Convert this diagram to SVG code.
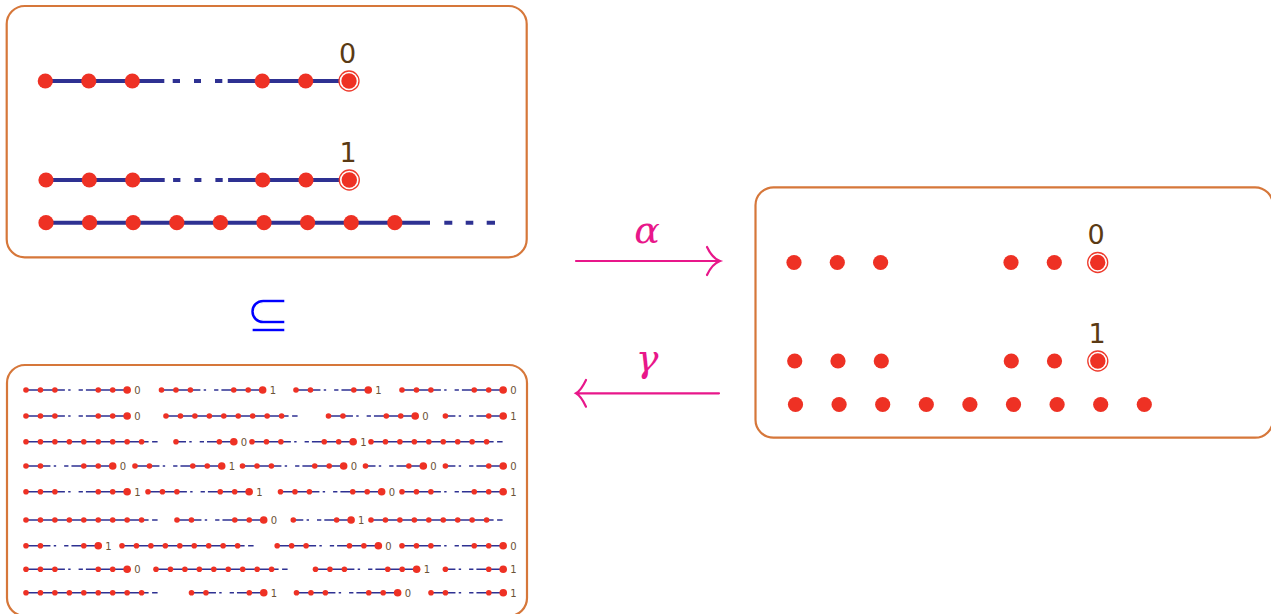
<svg xmlns="http://www.w3.org/2000/svg" width="1271" height="614" viewBox="0 0 1271 614">
<style>
.box{fill:#fff;stroke:#d6773a;stroke-width:2.2}
.ln{fill:none;stroke:#2e3192;stroke-width:4}
.sl{fill:none;stroke:#2e3192;stroke-width:1.5}
.red{fill:#ee3124}
.ring{fill:#fff;stroke:#ee3a2c;stroke-width:1.3}
.lab{font-family:"DejaVu Sans",sans-serif;font-size:27px;fill:#5a3a14;text-anchor:middle}
.sm{font-family:"DejaVu Sans",sans-serif;font-size:10px;fill:#6b5236}
.arr{fill:none;stroke:#e8178a;stroke-width:2.2;stroke-linecap:round}
.gr{font-family:"DejaVu Serif",serif;font-style:italic;font-size:38px;fill:#e8178a;text-anchor:middle}
.sub{font-family:"DejaVu Sans",sans-serif;font-size:54px;fill:#0000ff;stroke:#fff;stroke-width:1.4;text-anchor:middle}
</style>
<defs>
<circle id="d" r="7.6" class="red"/>
<g id="e"><circle r="10" class="ring"/><circle r="7.7" class="red"/></g>
<circle id="sd" r="2.8" class="red"/>
<circle id="bd" r="3.8" class="red"/>
<g id="g33"><path class="sl" d="M0 0H28.9h10m3.3 0h2.4m8 0h4.3m3 0H101.15"/><use href="#sd" x="0"/><use href="#sd" x="14.45"/><use href="#sd" x="28.9"/><use href="#sd" x="72.25"/><use href="#sd" x="86.7"/><use href="#bd" x="101.15"/></g>
<g id="g23"><path class="sl" d="M0 0H14.45h10m3.3 0h2.4m8 0h4.3m3 0H86.7"/><use href="#sd" x="0"/><use href="#sd" x="14.45"/><use href="#sd" x="57.8"/><use href="#sd" x="72.25"/><use href="#bd" x="86.7"/></g>
<g id="g22"><path class="sl" d="M0 0H14.45h10m3.3 0h2.4m8 0h4.3m3 0H72.25"/><use href="#sd" x="0"/><use href="#sd" x="14.45"/><use href="#sd" x="57.8"/><use href="#bd" x="72.25"/></g>
<g id="g12"><path class="sl" d="M0 0h10m3.3 0h2.4m8 0h4.3m3 0H57.8"/><use href="#sd" x="0"/><use href="#sd" x="43.35"/><use href="#bd" x="57.8"/></g>
<g id="p9"><path class="sl" d="M0 0H115.6h7m3.5 0h5.5"/><use href="#sd" x="0"/><use href="#sd" x="14.45"/><use href="#sd" x="28.9"/><use href="#sd" x="43.35"/><use href="#sd" x="57.8"/><use href="#sd" x="72.25"/><use href="#sd" x="86.7"/><use href="#sd" x="101.15"/><use href="#sd" x="115.6"/></g>
</defs>

<g id="node-chains">
<rect class="box" x="6.7" y="6" width="520" height="251.3" rx="18"/>
<path class="ln" d="M45.3 81H132.3h32m8.4 0h7.3m14 0h7m14 0h7.3m5.4 0H349"/>
<use href="#d" x="45.3" y="81"/><use href="#d" x="88.8" y="81"/><use href="#d" x="132.3" y="81"/><use href="#d" x="262.3" y="81"/><use href="#d" x="305.7" y="81"/><use href="#e" x="349" y="81"/>
<text class="lab" x="347.5" y="63">0</text>
<path class="ln" d="M46 180H132.7h32m8.4 0h7.3m14 0h7m14 0h7.3m5.4 0H349.3"/>
<use href="#d" x="46" y="180"/><use href="#d" x="89.3" y="180"/><use href="#d" x="132.7" y="180"/><use href="#d" x="262.7" y="180"/><use href="#d" x="306" y="180"/><use href="#e" x="349.3" y="180"/>
<text class="lab" x="348" y="162.3">1</text>
<path class="ln" d="M46 222.7H430m14.3 0h8m13.4 0h7.6m13.4 0h8.3"/>
<use href="#d" x="46" y="222.7"/><use href="#d" x="89.6" y="222.7"/><use href="#d" x="133.2" y="222.7"/><use href="#d" x="176.8" y="222.7"/><use href="#d" x="220.4" y="222.7"/><use href="#d" x="264" y="222.7"/><use href="#d" x="307.6" y="222.7"/><use href="#d" x="351.2" y="222.7"/><use href="#d" x="394.8" y="222.7"/>
</g>

<g id="node-points">
<rect class="box" x="755.5" y="187.3" width="517.5" height="250.4" rx="18"/>
<use href="#d" x="794" y="262.5"/><use href="#d" x="837.3" y="262.5"/><use href="#d" x="880.6" y="262.5"/><use href="#d" x="1011" y="262.5"/><use href="#d" x="1054.3" y="262.5"/><use href="#e" x="1097.7" y="262.5"/>
<text class="lab" x="1096" y="244">0</text>
<use href="#d" x="794.7" y="361"/><use href="#d" x="838" y="361"/><use href="#d" x="881.3" y="361"/><use href="#d" x="1011.3" y="361"/><use href="#d" x="1054.5" y="361"/><use href="#e" x="1097.8" y="361"/>
<text class="lab" x="1097" y="343.3">1</text>
<use href="#d" x="795.5" y="404.5"/><use href="#d" x="839.1" y="404.5"/><use href="#d" x="882.7" y="404.5"/><use href="#d" x="926.3" y="404.5"/><use href="#d" x="969.9" y="404.5"/><use href="#d" x="1013.5" y="404.5"/><use href="#d" x="1057.1" y="404.5"/><use href="#d" x="1100.7" y="404.5"/><use href="#d" x="1144.3" y="404.5"/>
</g>

<g id="node-subset">
<text class="sub" x="268" y="332">⊆</text>
</g>

<g id="node-many">
<rect class="box" x="7" y="365" width="520" height="251" rx="18"/>
<g transform="translate(0,390)">
<use href="#g33" x="26"/><text class="sm" x="134.15" y="4">0</text>
<use href="#g33" x="161.5"/><text class="sm" x="269.65" y="4">1</text>
<use href="#g22" x="296"/><text class="sm" x="375.25" y="4">1</text>
<use href="#g33" x="402"/><text class="sm" x="510.15" y="4">0</text>
</g>
<g transform="translate(0,416)">
<use href="#g33" x="26"/><text class="sm" x="134.15" y="4">0</text>
<use href="#p9" x="166"/>
<use href="#g23" x="328.5"/><text class="sm" x="422.2" y="4">0</text>
<use href="#g12" x="445.4"/><text class="sm" x="510.2" y="4">1</text>
</g>
<g transform="translate(0,441.7)">
<use href="#p9" x="26"/>
<use href="#g12" x="176"/><text class="sm" x="240.8" y="4">0</text>
<use href="#g33" x="252"/><text class="sm" x="360.15" y="4">1</text>
<use href="#p9" x="371"/>
</g>
<g transform="translate(0,466)">
<use href="#g23" x="26"/><text class="sm" x="119.7" y="4">0</text>
<use href="#g23" x="135"/><text class="sm" x="228.7" y="4">1</text>
<use href="#g33" x="242.5"/><text class="sm" x="350.65" y="4">0</text>
<use href="#g12" x="365.5"/><text class="sm" x="430.3" y="4">0</text>
<use href="#g12" x="445.4"/><text class="sm" x="510.2" y="4">0</text>
</g>
<g transform="translate(0,491.7)">
<use href="#g33" x="26"/><text class="sm" x="134.15" y="4">1</text>
<use href="#g33" x="148"/><text class="sm" x="256.15" y="4">1</text>
<use href="#g33" x="280.5"/><text class="sm" x="388.65" y="4">0</text>
<use href="#g33" x="402"/><text class="sm" x="510.15" y="4">1</text>
</g>
<g transform="translate(0,520)">
<use href="#p9" x="26"/>
<use href="#g23" x="177"/><text class="sm" x="270.7" y="4">0</text>
<use href="#g12" x="293.3"/><text class="sm" x="358.1" y="4">1</text>
<use href="#p9" x="371"/>
</g>
<g transform="translate(0,545.7)">
<use href="#g22" x="26"/><text class="sm" x="105.25" y="4">1</text>
<use href="#p9" x="122"/>
<use href="#g33" x="277.2"/><text class="sm" x="385.35" y="4">0</text>
<use href="#g33" x="402"/><text class="sm" x="510.15" y="4">0</text>
</g>
<g transform="translate(0,569.3)">
<use href="#g33" x="26"/><text class="sm" x="134.15" y="4">0</text>
<use href="#p9" x="156"/>
<use href="#g33" x="315.5"/><text class="sm" x="423.65" y="4">1</text>
<use href="#g12" x="445.4"/><text class="sm" x="510.2" y="4">1</text>
</g>
<g transform="translate(0,592.7)">
<use href="#p9" x="26"/>
<use href="#g22" x="191.5"/><text class="sm" x="270.75" y="4">1</text>
<use href="#g33" x="296.5"/><text class="sm" x="404.65" y="4">0</text>
<use href="#g22" x="431"/><text class="sm" x="510.25" y="4">1</text>
</g>
</g>

<g id="connectors">
<g id="edge-alpha">
<path class="arr" d="M576 261H719.5M707 247Q712 258 720 261Q712 264 707 275"/>
<text class="gr" x="647" y="243.3">α</text>
</g>
<g id="edge-gamma">
<path class="arr" d="M719 393.3H576.5M586 380Q581 390.5 576 393.3Q581 396 586 406.7"/>
<text class="gr" x="647" y="371">γ</text>
</g>
</g>
</svg>
